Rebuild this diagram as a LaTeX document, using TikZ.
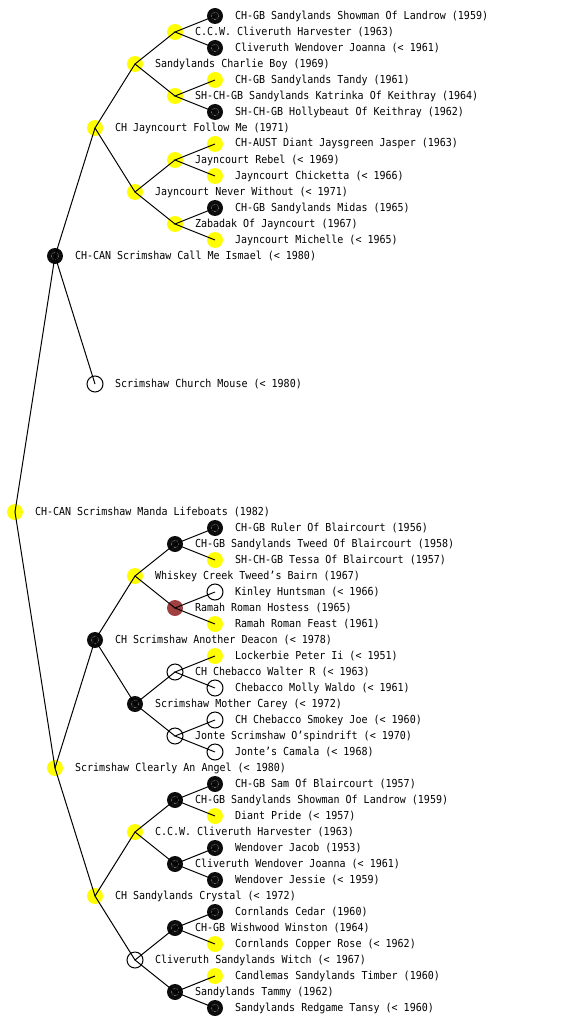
\documentclass[tikz,border=0pt]{standalone}
\usepackage{fontspec}
\setmonofont[FakeStretch=0.91]{DejaVu Sans Mono}
\usetikzlibrary{positioning}
\definecolor{dogyellow}{RGB}{255,255,0}
\definecolor{dogred}{RGB}{160,64,64}
\definecolor{dogblack}{RGB}{12,12,12}

\begin{document}
\begin{tikzpicture}[x=1pt, y=-1pt,
    dog/.style={circle, minimum size=16pt, inner sep=0pt, outer sep=0pt},
    dogyel/.style={dog, fill=dogyellow},
    dogblk/.style={dog, fill=dogblack,
        path picture={\draw[gray!60, densely dotted, line width=0.5pt]
            (path picture bounding box.center) circle (3.8pt);}},
    dogwht/.style={dog, draw=black, line width=1pt, fill=white},
    dogred/.style={dog, fill=dogred},
    lbl/.style={inner sep=0pt, outer sep=0pt, anchor=west, font=\ttfamily\fontsize{11}{13}\selectfont},
    link/.style={line width=1pt, black}
]
    \useasboundingbox (0,0) rectangle (560,1024);

    % generation 0 and 1
    \node[dogyel] (manda)  at (15,512) {};
    \node[dogblk] (ismael) at (55,256) {};
    \node[dogyel] (angel)  at (55,768) {};

    % generation 2
    \node[dogyel] (followme) at (95,128) {};
    \node[dogwht] (mouse)    at (95,384) {};
    \node[dogblk] (deacon)   at (95,640) {};
    \node[dogyel] (crystal)  at (95,896) {};

    % generation 3
    \node[dogyel] (charlie)   at (135,64)  {};
    \node[dogyel] (never)     at (135,192) {};
    \node[dogyel] (whiskey)   at (135,576) {};
    \node[dogblk] (carey)     at (135,704) {};
    \node[dogyel] (harvester) at (135,832) {};
    \node[dogwht] (witch)     at (135,960) {};

    % generation 4
    \node[dogyel] (ccw)      at (175,32)  {};
    \node[dogyel] (katrinka) at (175,96)  {};
    \node[dogyel] (rebel)    at (175,160) {};
    \node[dogyel] (zabadak)  at (175,224) {};
    \node[dogblk] (tweed)    at (175,544) {};
    \node[dogred] (hostess)  at (175,608) {};
    \node[dogwht] (walter)   at (175,672) {};
    \node[dogwht] (jonte)    at (175,736) {};
    \node[dogblk] (showmanb) at (175,800) {};
    \node[dogblk] (joannab)  at (175,864) {};
    \node[dogblk] (winston)  at (175,928) {};
    \node[dogblk] (tammy)    at (175,992) {};

    % generation 5
    \node[dogblk] (showman)    at (215,16)   {};
    \node[dogblk] (joanna)     at (215,48)   {};
    \node[dogyel] (tandy)      at (215,80)   {};
    \node[dogblk] (hollybeaut) at (215,112)  {};
    \node[dogyel] (jasper)     at (215,144)  {};
    \node[dogyel] (chicketta)  at (215,176)  {};
    \node[dogblk] (midas)      at (215,208)  {};
    \node[dogyel] (michelle)   at (215,240)  {};
    \node[dogblk] (ruler)      at (215,528)  {};
    \node[dogyel] (tessa)      at (215,560)  {};
    \node[dogwht] (kinley)     at (215,592)  {};
    \node[dogyel] (feast)      at (215,624)  {};
    \node[dogyel] (lockerbie)  at (215,656)  {};
    \node[dogwht] (molly)      at (215,688)  {};
    \node[dogwht] (smokey)     at (215,720)  {};
    \node[dogwht] (camala)     at (215,752)  {};
    \node[dogblk] (sam)        at (215,784)  {};
    \node[dogyel] (diant)      at (215,816)  {};
    \node[dogblk] (jacob)      at (215,848)  {};
    \node[dogblk] (jessie)     at (215,880)  {};
    \node[dogblk] (cedar)      at (215,912)  {};
    \node[dogyel] (copper)     at (215,944)  {};
    \node[dogyel] (candlemas)  at (215,976)  {};
    \node[dogblk] (tansy)      at (215,1008) {};

    % parent links
    \foreach \kid/\sire/\dam in {manda/ismael/angel, ismael/followme/mouse, angel/deacon/crystal,
        followme/charlie/never, deacon/whiskey/carey, crystal/harvester/witch,
        charlie/ccw/katrinka, never/rebel/zabadak, whiskey/tweed/hostess, carey/walter/jonte,
        harvester/showmanb/joannab, witch/winston/tammy,
        ccw/showman/joanna, katrinka/tandy/hollybeaut, rebel/jasper/chicketta, zabadak/midas/michelle,
        tweed/ruler/tessa, hostess/kinley/feast, walter/lockerbie/molly, jonte/smokey/camala,
        showmanb/sam/diant, joannab/jacob/jessie, winston/cedar/copper, tammy/candlemas/tansy}
        \draw[link] (\sire.center) -- (\kid.center) -- (\dam.center);

    % names
    \node[lbl, right=12pt of manda]  (mandal)  {CH-CAN Scrimshaw Manda Lifeboats (1982)};
    \node[lbl, right=12pt of ismael] (ismaell) {CH-CAN Scrimshaw Call Me Ismael (< 1980)};
    \node[lbl, right=12pt of angel]  (angell)  {Scrimshaw Clearly An Angel (< 1980)};

    \node[lbl, right=12pt of followme] (followmel) {CH Jayncourt Follow Me (1971)};
    \node[lbl, right=12pt of mouse]    (mousel)    {Scrimshaw Church Mouse (< 1980)};
    \node[lbl, right=12pt of deacon]   (deaconl)   {CH Scrimshaw Another Deacon (< 1978)};
    \node[lbl, right=12pt of crystal]  (crystall)  {CH Sandylands Crystal (< 1972)};

    \node[lbl, right=12pt of charlie]   (charliel)   {Sandylands Charlie Boy (1969)};
    \node[lbl, right=12pt of never]     (neverl)     {Jayncourt Never Without (< 1971)};
    \node[lbl, right=12pt of whiskey]   (whiskeyl)   {Whiskey Creek Tweed’s Bairn (1967)};
    \node[lbl, right=12pt of carey]     (careyl)     {Scrimshaw Mother Carey (< 1972)};
    \node[lbl, right=12pt of harvester] (harvesterl) {C.C.W. Cliveruth Harvester (1963)};
    \node[lbl, right=12pt of witch]     (witchl)     {Cliveruth Sandylands Witch (< 1967)};

    \node[lbl, right=12pt of ccw]      (ccwl)      {C.C.W. Cliveruth Harvester (1963)};
    \node[lbl, right=12pt of katrinka] (katrinkal) {SH-CH-GB Sandylands Katrinka Of Keithray (1964)};
    \node[lbl, right=12pt of rebel]    (rebell)    {Jayncourt Rebel (< 1969)};
    \node[lbl, right=12pt of zabadak]  (zabadakl)  {Zabadak Of Jayncourt (1967)};
    \node[lbl, right=12pt of tweed]    (tweedl)    {CH-GB Sandylands Tweed Of Blaircourt (1958)};
    \node[lbl, right=12pt of hostess]  (hostessl)  {Ramah Roman Hostess (1965)};
    \node[lbl, right=12pt of walter]   (walterl)   {CH Chebacco Walter R (< 1963)};
    \node[lbl, right=12pt of jonte]    (jontel)    {Jonte Scrimshaw O’spindrift (< 1970)};
    \node[lbl, right=12pt of showmanb] (showmanbl) {CH-GB Sandylands Showman Of Landrow (1959)};
    \node[lbl, right=12pt of joannab]  (joannabl)  {Cliveruth Wendover Joanna (< 1961)};
    \node[lbl, right=12pt of winston]  (winstonl)  {CH-GB Wishwood Winston (1964)};
    \node[lbl, right=12pt of tammy]    (tammyl)    {Sandylands Tammy (1962)};

    \node[lbl, right=12pt of showman]    (showmanl)    {CH-GB Sandylands Showman Of Landrow (1959)};
    \node[lbl, right=12pt of joanna]     (joannal)     {Cliveruth Wendover Joanna (< 1961)};
    \node[lbl, right=12pt of tandy]      (tandyl)      {CH-GB Sandylands Tandy (1961)};
    \node[lbl, right=12pt of hollybeaut] (hollybeautl) {SH-CH-GB Hollybeaut Of Keithray (1962)};
    \node[lbl, right=12pt of jasper]     (jasperl)     {CH-AUST Diant Jaysgreen Jasper (1963)};
    \node[lbl, right=12pt of chicketta]  (chickettal)  {Jayncourt Chicketta (< 1966)};
    \node[lbl, right=12pt of midas]      (midasl)      {CH-GB Sandylands Midas (1965)};
    \node[lbl, right=12pt of michelle]   (michellel)   {Jayncourt Michelle (< 1965)};
    \node[lbl, right=12pt of ruler]      (rulerl)      {CH-GB Ruler Of Blaircourt (1956)};
    \node[lbl, right=12pt of tessa]      (tessal)      {SH-CH-GB Tessa Of Blaircourt (1957)};
    \node[lbl, right=12pt of kinley]     (kinleyl)     {Kinley Huntsman (< 1966)};
    \node[lbl, right=12pt of feast]      (feastl)      {Ramah Roman Feast (1961)};
    \node[lbl, right=12pt of lockerbie]  (lockerbiel)  {Lockerbie Peter Ii (< 1951)};
    \node[lbl, right=12pt of molly]      (mollyl)      {Chebacco Molly Waldo (< 1961)};
    \node[lbl, right=12pt of smokey]     (smokeyl)     {CH Chebacco Smokey Joe (< 1960)};
    \node[lbl, right=12pt of camala]     (camalal)     {Jonte’s Camala (< 1968)};
    \node[lbl, right=12pt of sam]        (saml)        {CH-GB Sam Of Blaircourt (1957)};
    \node[lbl, right=12pt of diant]      (diantl)      {Diant Pride (< 1957)};
    \node[lbl, right=12pt of jacob]      (jacobl)      {Wendover Jacob (1953)};
    \node[lbl, right=12pt of jessie]     (jessiel)     {Wendover Jessie (< 1959)};
    \node[lbl, right=12pt of cedar]      (cedarl)      {Cornlands Cedar (1960)};
    \node[lbl, right=12pt of copper]     (copperl)     {Cornlands Copper Rose (< 1962)};
    \node[lbl, right=12pt of candlemas]  (candlemasl)  {Candlemas Sandylands Timber (1960)};
    \node[lbl, right=12pt of tansy]      (tansyl)      {Sandylands Redgame Tansy (< 1960)};
\end{tikzpicture}
\end{document}
